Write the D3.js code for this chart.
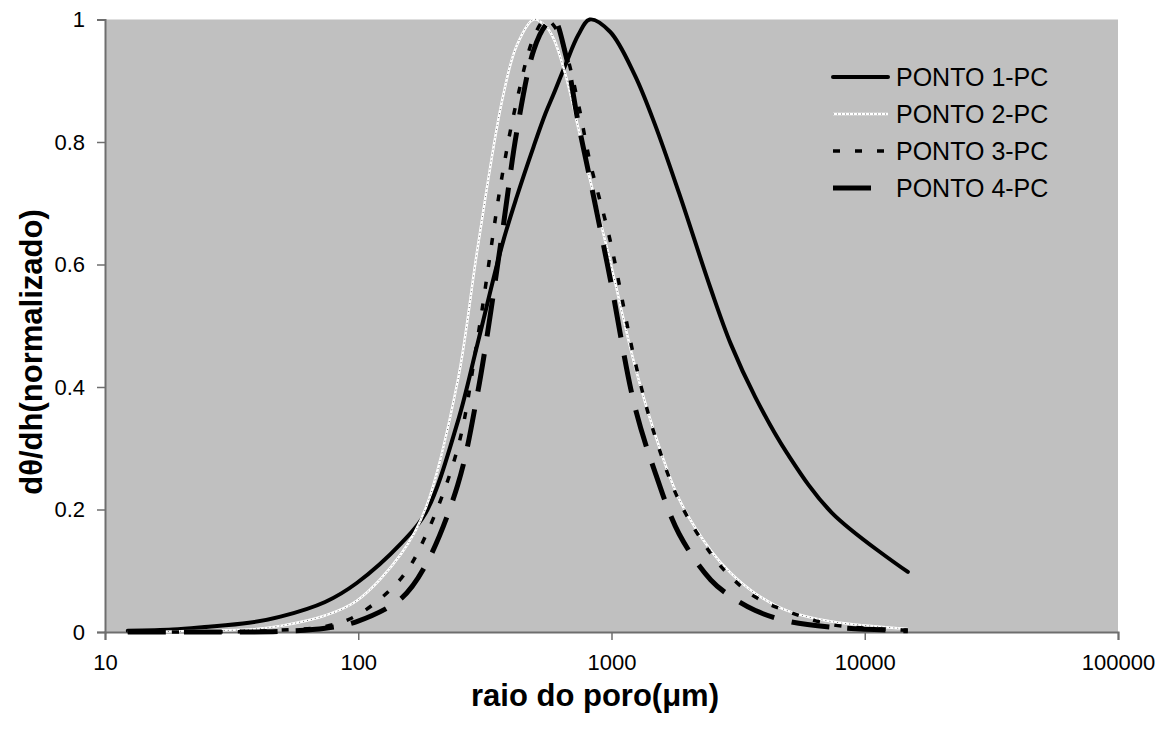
<!DOCTYPE html>
<html>
<head>
<meta charset="utf-8">
<script src="https://cdn.jsdelivr.net/npm/d3@7"></script>
<style>
  html, body { margin: 0; padding: 0; background: #ffffff; }
  svg { display: block; }
  text { font-family: "Liberation Sans", Arial, sans-serif; }
</style>
</head>
<body>
<svg id="chart" width="1173" height="735"></svg>
<script>
// ---- data ----
const radius = [12.3, 18.5, 24.7, 37, 49.3, 74, 98.7, 148, 185, 247, 296, 370, 423, 493, 548, 592, 658, 740, 820, 987, 1233, 1480, 1850, 2467, 2960, 3700, 4933, 7400, 14800];

const ponto1 = [0.002, 0.004, 0.008, 0.015, 0.025, 0.049, 0.08, 0.145, 0.195, 0.343, 0.471, 0.632, 0.711, 0.793, 0.846, 0.879, 0.926, 0.975, 1.0, 0.98, 0.91, 0.83, 0.716, 0.56, 0.47, 0.383, 0.292, 0.195, 0.098];
const ponto2 = [0.0, 0.001, 0.002, 0.004, 0.010, 0.027, 0.051, 0.128, 0.203, 0.41, 0.627, 0.868, 0.958, 1.0, 0.99, 0.968, 0.91, 0.822, 0.741, 0.606, 0.437, 0.325, 0.217, 0.133, 0.096, 0.063, 0.035, 0.017, 0.005];
const ponto3 = [0.0, 0.0, 0.0, 0.001, 0.003, 0.009, 0.027, 0.088, 0.158, 0.30, 0.48, 0.745, 0.868, 0.971, 1.0, 0.99, 0.948, 0.862, 0.77, 0.64, 0.445, 0.322, 0.214, 0.128, 0.09, 0.057, 0.034, 0.012, 0.003];
const ponto4 = [0.0, 0.0, 0.0, 0.0, 0.001, 0.006, 0.017, 0.055, 0.11, 0.24, 0.39, 0.65, 0.818, 0.95, 0.99, 1.0, 0.944, 0.83, 0.742, 0.578, 0.37, 0.263, 0.16, 0.085, 0.058, 0.035, 0.018, 0.008, 0.002];

const seriesNames = ["PONTO 1-PC", "PONTO 2-PC", "PONTO 3-PC", "PONTO 4-PC"];
const xTicks = [10, 100, 1000, 10000, 100000];
const yTicks = [0, 0.2, 0.4, 0.6, 0.8, 1];
const xTitle = "raio do poro(\u03bcm)";
const yTitle = "d\u03b8/dh(normalizado)";

// ---- layout ----
const L = 105, R = 1118, T = 19.5, B = 632;
const svg = d3.select("#chart");

const x = d3.scaleLog().domain([10, 100000]).range([L, R]);
const y = d3.scaleLinear().domain([0, 1]).range([B, T]);

// plot area
svg.append("rect").attr("x", L).attr("y", T).attr("width", R - L).attr("height", B - T).attr("fill", "#c0c0c0");

// axes
const axisColor = "#6e6e6e";
const gx = svg.append("g").attr("transform", `translate(0,${B})`)
  .call(d3.axisBottom(x).tickValues(xTicks).tickFormat(d3.format("d")).tickSize(8).tickPadding(14));
const gy = svg.append("g").attr("transform", `translate(${L},0)`)
  .call(d3.axisLeft(y).tickValues(yTicks).tickFormat(d => (d === 0 || d === 1) ? String(d) : d.toFixed(1)).tickSize(8).tickPadding(12));
[gx, gy].forEach(g => {
  g.select(".domain").attr("stroke", axisColor).attr("stroke-width", 2);
  g.selectAll(".tick line").attr("stroke", axisColor).attr("stroke-width", 1.5);
  g.selectAll(".tick text").attr("fill", "#000").style("font-size", "22px").style("font-family", "Liberation Sans, Arial, sans-serif");
});

// axis titles
svg.append("text").attr("x", 595).attr("y", 706).attr("text-anchor", "middle")
  .style("font-size", "31px").style("font-weight", "bold").text(xTitle);
svg.append("text").attr("transform", `translate(42,352) rotate(-90)`).attr("text-anchor", "middle")
  .style("font-size", "31px").style("font-weight", "bold").text(yTitle);

// lines
const line = d3.line().x((d, i) => x(radius[i])).y(d => y(d)).curve(d3.curveCatmullRom.alpha(0.5));

const styles = [
  [{stroke: "#000", width: 4, dash: null}],
  [{stroke: "#ffffff", width: 2.5, dash: null}, {stroke: "#000", width: 1, dash: "1,3", opacity: 0.55}],
  [{stroke: "#000", width: 3.5, dash: "7,15"}],
  [{stroke: "#000", width: 5, dash: "38,18"}]
];
const data = [ponto1, ponto2, ponto3, ponto4];

data.forEach((vals, si) => {
  styles[si].forEach(st => {
    svg.append("path").datum(vals).attr("d", line)
      .attr("fill", "none").attr("stroke", st.stroke).attr("stroke-width", st.width)
      .attr("stroke-dasharray", st.dash).attr("stroke-opacity", st.opacity || 1)
      .attr("stroke-linejoin", "round").attr("stroke-linecap", si === 0 ? "round" : "butt");
  });
});

// legend
const legY = [77, 114, 151, 188];
seriesNames.forEach((name, si) => {
  styles[si].forEach(st => {
    svg.append("line").attr("x1", 833).attr("x2", 888).attr("y1", legY[si]).attr("y2", legY[si])
      .attr("stroke", st.stroke).attr("stroke-width", st.width).attr("stroke-dasharray", st.dash)
      .attr("stroke-opacity", st.opacity || 1).attr("stroke-linecap", si === 0 ? "round" : "butt");
  });
  svg.append("text").attr("x", 896).attr("y", legY[si] + 9).style("font-size", "25px").text(name);
});
</script>
</body>
</html>
